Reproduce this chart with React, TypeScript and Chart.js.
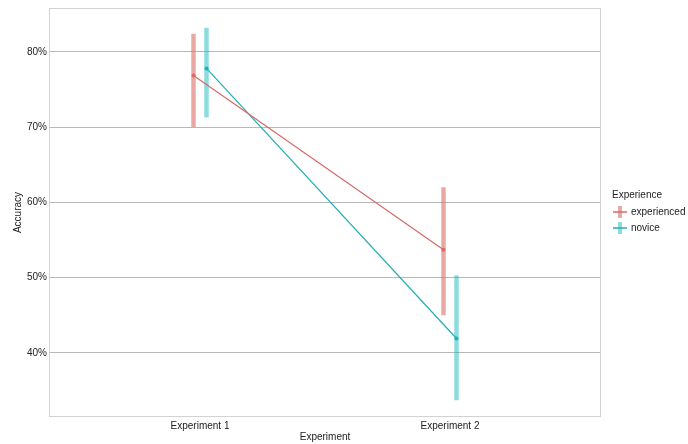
import React, { useEffect, useRef } from "react";
import { Chart, registerables } from "chart.js";

Chart.register(...registerables);

// Experiment categories and group summaries (accuracy in %)
const experiments = ["Experiment 1", "Experiment 2"];
const groups = ["experienced", "novice"];

const experiencedMean = [76.85, 53.7];
const experiencedLow = [70.0, 45.0];
const experiencedHigh = [82.4, 62.0];

const noviceMean = [77.8, 41.9];
const noviceLow = [71.3, 33.7];
const noviceHigh = [83.2, 50.3];

const yTicks = [40, 50, 60, 70, 80];

const FONT = '"Liberation Sans", Arial, Helvetica, sans-serif';
const dodge = 0.026;

const lineColors = ["#d66a64", "#22aeb3"];
const barColors = ["rgba(220,110,104,0.6)", "rgba(0,176,184,0.45)"];

const series = [
  { name: groups[0], mean: experiencedMean, low: experiencedLow, high: experiencedHigh, shift: -dodge },
  { name: groups[1], mean: noviceMean, low: noviceLow, high: noviceHigh, shift: dodge },
];

// Vertical intervals behind each group's points, placed through the chart scales
const errorBars = {
  id: "errorBars",
  beforeDatasetsDraw(chart: any) {
    const { ctx, scales } = chart;
    const xs = scales.x;
    const ys = scales.y;
    ctx.save();
    ctx.lineCap = "butt";
    series.forEach((s, si) => {
      ctx.strokeStyle = barColors[si];
      ctx.lineWidth = 4.5;
      s.mean.forEach((_, i) => {
        const x = xs.getPixelForValue(i + 1 + s.shift);
        ctx.beginPath();
        ctx.moveTo(x, ys.getPixelForValue(s.low[i]));
        ctx.lineTo(x, ys.getPixelForValue(s.high[i]));
        ctx.stroke();
      });
    });
    ctx.restore();
  },
};

// Light panel frame
const panelFrame = {
  id: "panelFrame",
  beforeDraw(chart: any) {
    const { ctx, chartArea: a } = chart;
    ctx.save();
    ctx.strokeStyle = "#d2d2d2";
    ctx.lineWidth = 1;
    ctx.strokeRect(a.left - 0.5, a.top - 0.5, a.right - a.left + 1, a.bottom - a.top + 1);
    ctx.restore();
  },
};

// Legend at the right with interval + line keys
const sideLegend = {
  id: "sideLegend",
  afterDraw(chart: any) {
    const { ctx, chartArea: a } = chart;
    const x0 = a.right + 12;
    const yTitle = 195;
    ctx.save();
    ctx.font = `10px ${FONT}`;
    ctx.fillStyle = "#222";
    ctx.textBaseline = "middle";
    ctx.textAlign = "left";
    ctx.fillText("Experience", x0, yTitle);
    groups.forEach((g, i) => {
      const cy = yTitle + 17 + i * 16;
      const cx = x0 + 8;
      ctx.strokeStyle = barColors[i];
      ctx.lineWidth = 4;
      ctx.beginPath();
      ctx.moveTo(cx, cy - 6);
      ctx.lineTo(cx, cy + 6);
      ctx.stroke();
      ctx.strokeStyle = lineColors[i];
      ctx.lineWidth = 1.5;
      ctx.beginPath();
      ctx.moveTo(cx - 7, cy);
      ctx.lineTo(cx + 7, cy);
      ctx.stroke();
      ctx.fillStyle = "#222";
      ctx.fillText(g, x0 + 19, cy);
    });
    ctx.restore();
  },
};

export default function App() {
  const ref = useRef<HTMLCanvasElement | null>(null);

  useEffect(() => {
    if (!ref.current) return;
    const chart = new Chart(ref.current, {
      type: "line",
      data: {
        datasets: series.map((s, si) => ({
          label: s.name,
          data: s.mean.map((v, i) => ({ x: i + 1 + s.shift, y: v })),
          borderColor: lineColors[si],
          backgroundColor: lineColors[si],
          borderWidth: 1.2,
          pointRadius: 2,
          pointBorderWidth: 0,
          tension: 0,
        })),
      },
      options: {
        responsive: false,
        animation: false,
        layout: { padding: { top: 3.5, right: 88, left: 0, bottom: 0 } },
        plugins: { legend: { display: false }, tooltip: { enabled: false } },
        scales: {
          x: {
            type: "linear",
            min: 0.4,
            max: 2.6,
            afterBuildTicks(scale: any) {
              scale.ticks = experiments.map((_, i) => ({ value: i + 1 }));
            },
            afterFit(scale: any) {
              scale.height = 28;
            },
            ticks: {
              padding: 4,
              color: "#222",
              font: { family: FONT, size: 10 },
              callback: (v: any) => experiments[Math.round(Number(v)) - 1] ?? "",
            },
            grid: { display: false, drawTicks: false },
            border: { display: false },
            title: {
              display: true,
              text: "Experiment",
              color: "#222",
              font: { family: FONT, size: 10 },
              padding: { top: 0, bottom: 1 },
            },
          },
          y: {
            type: "linear",
            min: 31.6,
            max: 85.7,
            afterBuildTicks(scale: any) {
              scale.ticks = yTicks.map((v) => ({ value: v }));
            },
            afterFit(scale: any) {
              scale.width = 50;
            },
            ticks: {
              padding: 3,
              color: "#222",
              font: { family: FONT, size: 10 },
              callback: (v: any) => `${v}%`,
            },
            grid: { color: "#b8b8b8", lineWidth: 1, drawTicks: false },
            border: { display: false },
            title: {
              display: true,
              text: "Accuracy",
              color: "#222",
              font: { family: FONT, size: 10 },
              padding: { top: 12, bottom: 0 },
            },
          },
        },
      },
      plugins: [panelFrame, errorBars, sideLegend],
    });
    return () => chart.destroy();
  }, []);

  return (
    <div style={{ position: "fixed", left: 0, top: 0, width: 688, height: 444, background: "#fff" }}>
      <canvas ref={ref} width={688} height={444} />
    </div>
  );
}
